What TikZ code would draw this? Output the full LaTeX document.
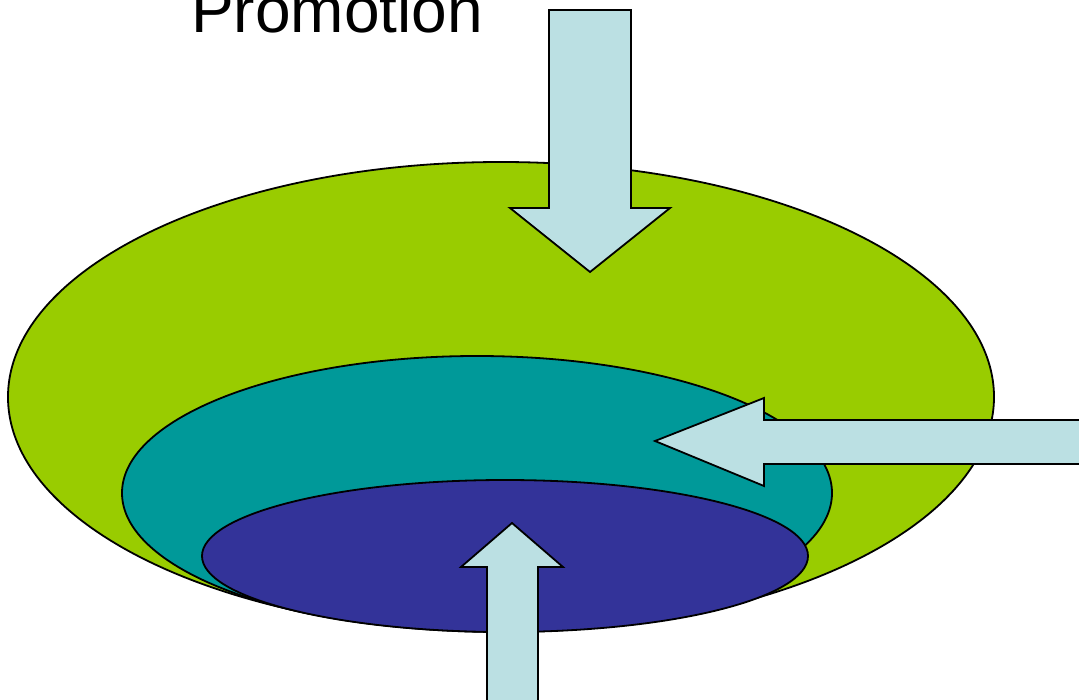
\documentclass[tikz,border=0pt]{standalone}
\usepackage{fontspec}
\setmainfont{Liberation Sans}
\definecolor{cgreen}{HTML}{99CC00}
\definecolor{cteal}{HTML}{009999}
\definecolor{cblue}{HTML}{333399}
\definecolor{carrow}{HTML}{BBE0E3}
\begin{document}
\begin{tikzpicture}[x=1pt,y=-1pt,
  layer/.style={draw=black,line width=1.8pt},
  arrowshape/.style={draw=black,fill=carrow,line width=1.8pt,line join=miter}]
\useasboundingbox (0,0) rectangle (1079,700);
\begin{scope}
\clip (0,0) rectangle (1079,700);
% ellipses
\draw[layer,fill=cgreen] (501,397) ellipse [x radius=493, y radius=235];
\draw[layer,fill=cteal] (477,493) ellipse [x radius=355, y radius=137];
\draw[layer,fill=cblue] (505,556) ellipse [x radius=303, y radius=76];
% top arrow
\draw[arrowshape] (549,10) -- (631,10) -- (631,208) -- (670,208) -- (590,272) -- (510,208) -- (549,208) -- cycle;
% right arrow
\draw[arrowshape] (1085,420) -- (764,420) -- (764,398) -- (655,441) -- (764,486) -- (764,464) -- (1085,464);
% bottom arrow
\draw[arrowshape] (487,706) -- (487,567) -- (461,567) -- (512,523) -- (563,567) -- (538,567) -- (538,706);
% text
\node[anchor=base west,inner sep=0pt,font=\fontsize{64}{70}\selectfont] (promo) at (191,33) {Promotion};
\end{scope}
\end{tikzpicture}
\end{document}
